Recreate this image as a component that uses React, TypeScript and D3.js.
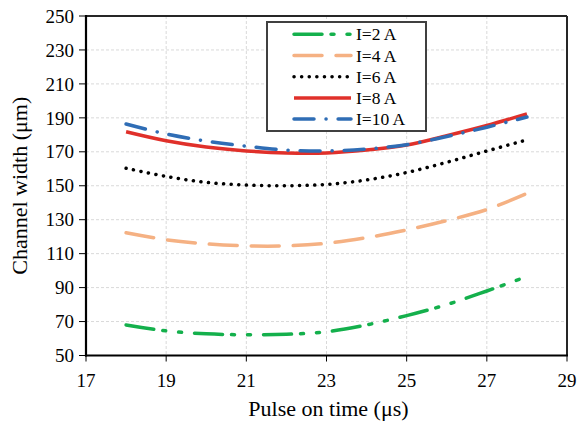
import React from "react";
import * as d3 from "d3";

const pulseOn = [18, 19, 20, 21, 22, 23, 24, 25, 26, 27, 28];
const i2 = [68, 64.5, 62.8, 62.2, 62.5, 64, 68, 73.5, 80, 88, 96.5];
const i4 = [122.3, 118.2, 115.8, 114.6, 114.6, 116.1, 119.4, 124, 129.5, 136, 145.5];
const i6 = [160.3, 155.5, 152, 150.4, 150, 150.8, 153.4, 157.8, 163.8, 170.5, 177];
const i8 = [181.8, 176.5, 172.8, 170.5, 169.3, 169.3, 171, 174, 179.5, 185.5, 192.3];
const i10 = [186.4, 180.5, 176.3, 173.3, 171, 170.5, 171.6, 174.2, 179, 184.5, 190.5];
const seriesNames = ["I=2 A", "I=4 A", "I=6 A", "I=8 A", "I=10 A"];
const xTicks = [17, 19, 21, 23, 25, 27, 29];
const yTicks = [50, 70, 90, 110, 130, 150, 170, 190, 210, 230, 250];

const styles = [
  { color: "#14b04c", dash: "28,9,3,13,3,13", width: 3.5, cap: "round" },
  { color: "#f5b183", dash: "28,14", width: 3.5, cap: "round" },
  { color: "#000000", dash: "0.1,7.5", width: 3.5, cap: "round" },
  { color: "#e0302a", dash: "", width: 3.5, cap: "butt" },
  { color: "#2f6db5", dash: "20,12,0.1,12", width: 3.5, cap: "round" },
];

const FONT = "Liberation Serif";

export default function App() {
  const W = 579, H = 426;
  const L = 86, R = 567, T = 16, B = 355.5;
  const x = d3.scaleLinear().domain([17, 29]).range([L, R]);
  const y = d3.scaleLinear().domain([50, 250]).range([B, T]);
  const data = [i2, i4, i6, i8, i10];
  const line = d3
    .line<number>()
    .x((_, i) => x(pulseOn[i]))
    .y((d) => y(d))
    .curve(d3.curveCatmullRom.alpha(0.5));
  const ts = (size: number) => ({ fontFamily: FONT, fontSize: size + "px" });
  const lgX = 267, lgY = 22, lgW = 159, lgH = 109;
  return (
    <svg width={W} height={H} style={{ position: "absolute", left: 0, top: 0, background: "#fff" }}>
      <rect x={0} y={0} width={W} height={H} fill="#fff" />
      {xTicks.slice(1, -1).map((t) => (
        <line key={"gx" + t} x1={x(t)} x2={x(t)} y1={T} y2={B} stroke="#d9d9d9" strokeWidth={1} strokeDasharray="3,2" />
      ))}
      {yTicks.slice(1, -1).map((t) => (
        <line key={"gy" + t} x1={L} x2={R} y1={y(t)} y2={y(t)} stroke="#d9d9d9" strokeWidth={1} strokeDasharray="3,2" />
      ))}
      {data.map((d, k) => (
        <path
          key={k}
          d={line(d) || ""}
          fill="none"
          stroke={styles[k].color}
          strokeWidth={styles[k].width}
          strokeDasharray={styles[k].dash || undefined}
          strokeLinecap={styles[k].cap as any}
        />
      ))}
      <line x1={L} x2={R} y1={T} y2={T} stroke="#262626" strokeWidth={2} />
      <line x1={R} x2={R} y1={T} y2={B} stroke="#262626" strokeWidth={2} />
      <line x1={L} x2={L} y1={T - 1} y2={B + 1} stroke="#000" strokeWidth={2.2} />
      <line x1={L - 1} x2={R + 1} y1={B} y2={B} stroke="#000" strokeWidth={2.2} />
      {yTicks.map((t) => (
        <g key={"yt" + t}>
          <line x1={L - 7} x2={L} y1={y(t)} y2={y(t)} stroke="#000" strokeWidth={1} />
          <text x={L - 12} y={y(t)} dy="0.35em" textAnchor="end" style={ts(19)} fill="#000">
            {t}
          </text>
        </g>
      ))}
      {xTicks.map((t) => (
        <g key={"xt" + t}>
          <line x1={x(t)} x2={x(t)} y1={B} y2={B + 6} stroke="#000" strokeWidth={1} />
          <text x={x(t)} y={B + 31} textAnchor="middle" style={ts(19)} fill="#000">
            {t}
          </text>
        </g>
      ))}
      <text x={(L + R) / 2 + 2} y={416} textAnchor="middle" style={ts(22)} fill="#000">
        Pulse on time (μs)
      </text>
      <text
        transform={`translate(27, ${(T + B) / 2}) rotate(-90)`}
        textAnchor="middle"
        style={ts(22)}
        fill="#000"
      >
        Channel width (μm)
      </text>
      <rect x={lgX} y={lgY} width={lgW} height={lgH} fill="#fff" stroke="#404040" strokeWidth={2} />
      {seriesNames.map((n, k) => {
        const ry = 34.3 + k * 21.2;
        return (
          <g key={"lg" + k}>
            <line
              x1={294}
              x2={351}
              y1={ry}
              y2={ry}
              stroke={styles[k].color}
              strokeWidth={styles[k].width}
              strokeDasharray={styles[k].dash || undefined}
              strokeLinecap={styles[k].cap as any}
            />
            <text x={356} y={ry} dy="0.35em" style={ts(17.5)} fill="#000">
              {n}
            </text>
          </g>
        );
      })}
    </svg>
  );
}
